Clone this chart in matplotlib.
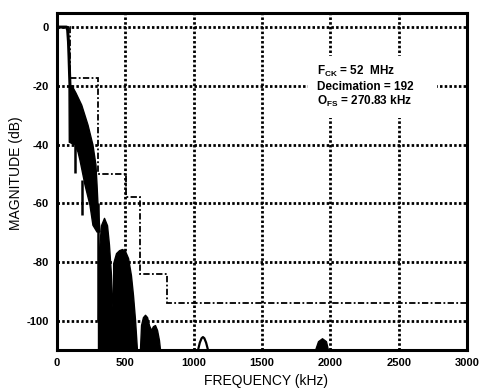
import matplotlib
matplotlib.use("Agg")
import matplotlib.pyplot as plt
from matplotlib.patches import Rectangle

# ---------------- data (kHz, dB) ----------------
resp_f = [0, 70, 78, 84, 88, 92, 95]
resp_db = [0, 0, -1, -5, -10, -16, -20]

dense_top_f = [88, 95, 110, 139, 181, 227, 263, 285, 293, 300, 315]
dense_top_db = [-20, -20, -20, -22.5, -26.6, -33.4, -40.2, -47, -53.8, -60.6, -69.8]
dense_bot_f = [88, 90, 132, 154, 168, 205, 241, 263, 293, 315]
dense_bot_db = [-20, -39.2, -40.2, -42.6, -45.3, -53.8, -60.6, -67.5, -69.8, -69.8]

spike_f = [132, 181, 300, 410]
spike_top = [-40, -52, -60, -95]
spike_bot = [-49.7, -64, -100, -110]

lobe1_f = [300, 307, 322, 344, 366, 380, 395, 410]
lobe1_db = [-100, -76, -67.5, -65, -67.5, -74, -84.5, -100]
lobe2_f = [410, 411, 432, 454, 476, 498, 520, 541, 556, 571, 585]
lobe2_db = [-110, -80.4, -77, -76, -75.6, -76.3, -78.7, -84.5, -91.3, -99.8, -110]
lobe3_f = [607, 615, 629, 644, 659, 673, 688, 702, 717, 732, 746, 754]
lobe3_db = [-110, -101.5, -98.8, -98, -98.8, -101.5, -103.2, -101.9, -101.5, -103.2, -106.6, -110]
lobe4_f = [1888, 1910, 1939, 1968, 1983]
lobe4_db = [-110, -107, -106, -107, -110]

bump_f = [1032, 1045, 1058, 1068, 1078, 1091, 1105]
bump_db = [-110, -107.5, -106, -105.6, -106, -107.5, -110]

mask_edges = [0, 95, 300, 505, 607, 805, 3000]
mask_levels = [0, -17.5, -50, -57.8, -84, -94]

x_ticks = [0, 500, 1000, 1500, 2000, 2500, 3000]
y_ticks = [0, -20, -40, -60, -80, -100]

annot_lines = [r"F$_{\mathbf{CK}}$ = 52  MHz", "Decimation = 192", r"O$_{\mathbf{FS}}$ = 270.83 kHz"]

# ---------------- style ----------------
plt.rcParams["axes.unicode_minus"] = False
plt.rcParams["mathtext.fontset"] = "custom"
plt.rcParams["mathtext.bf"] = "Liberation Sans:bold"
plt.rcParams["mathtext.rm"] = "Liberation Sans:bold"
bold_fam = ["Liberation Sans", "DejaVu Sans"]

fig = plt.figure(figsize=(4.83, 3.90), dpi=100)
ax = fig.add_axes([57 / 483, 1 - 350 / 390, 410 / 483, 337 / 390])

ax.set_xlim(0, 3000)
ax.set_ylim(-110, 4.8)

# grid
for xv in x_ticks[1:-1]:
    ax.axvline(xv, color="black", lw=2.0, linestyle=(0, (0.9, 0.8)), zorder=1)
for yv in y_ticks:
    ax.axhline(yv, color="black", lw=2.0, linestyle=(0, (0.9, 0.8)), zorder=1)

# white box behind annotation
ax.add_patch(Rectangle((1837, -31), 2780 - 1837, 21, facecolor="white",
                       edgecolor="none", zorder=1.5))

# mask (dash-dot stairs)
ax.stairs(mask_levels, mask_edges, baseline=None, color="black", lw=1.3,
          linestyle=(0, (3.5, 1.3, 1, 1.3)), zorder=2)

# response
ax.plot(resp_f, resp_db, color="black", lw=2.2, zorder=3, solid_capstyle="butt")
ax.fill(dense_top_f + dense_bot_f[::-1], dense_top_db + dense_bot_db[::-1],
        color="black", lw=1, zorder=3)
ax.vlines(spike_f, spike_bot, spike_top, color="black", lw=1.8, zorder=3)
for lf, ld in [(lobe1_f, lobe1_db), (lobe2_f, lobe2_db), (lobe3_f, lobe3_db), (lobe4_f, lobe4_db)]:
    ax.fill_between(lf, ld, -110, color="black", lw=1, zorder=3)
ax.plot(bump_f, bump_db, color="black", lw=1.6, zorder=3)

# annotation
for s, yy in zip(annot_lines, [-16.4, -21.5, -26.6]):
    ax.text(1905, yy, s, fontsize=8.5, fontweight="bold", family=bold_fam,
            va="baseline", ha="left", zorder=4)

# axes styling
for sp in ax.spines.values():
    sp.set_linewidth(2.2)
ax.set_xticks(x_ticks)
ax.set_yticks(y_ticks)
ax.set_xticklabels([str(v) for v in x_ticks], fontsize=8, fontweight="bold", family=bold_fam)
ax.set_yticklabels([str(v) for v in y_ticks], fontsize=8, fontweight="bold", family=bold_fam)
ax.tick_params(axis="both", length=0)
ax.tick_params(axis="y", pad=6)
ax.tick_params(axis="x", pad=5.5)

ax.set_xlabel("FREQUENCY (kHz)", fontsize=10, family=["Liberation Sans", "DejaVu Sans"])
ax.set_ylabel("MAGNITUDE (dB)", fontsize=10, family=["Liberation Sans", "DejaVu Sans"])
ax.xaxis.label.set_verticalalignment("center")
ax.xaxis.set_label_coords(0.51, -0.092)
ax.yaxis.set_label_coords(-0.083, 0.525)

fig.savefig("out.png", dpi=100)
